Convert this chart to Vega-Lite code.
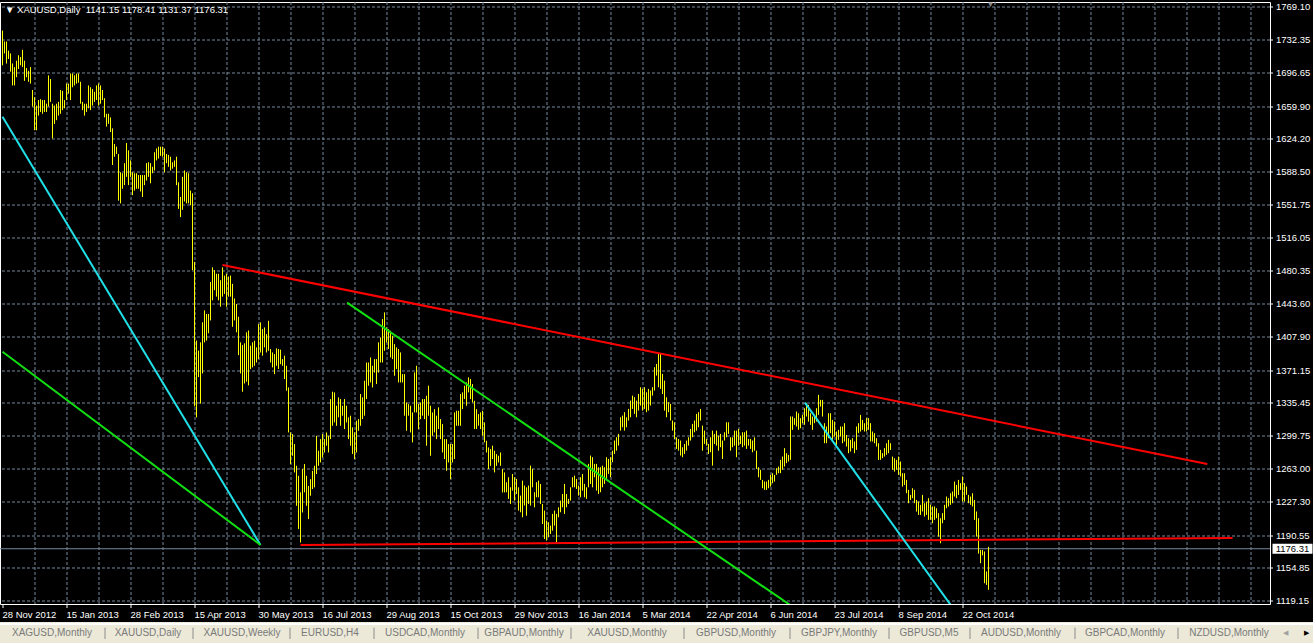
{
"$schema": "https://vega.github.io/schema/vega-lite/v6.json",
"background": "#000000",
"padding": {"left": 0, "top": 2, "right": 43, "bottom": 39},
"autosize": {"type": "none"},
"width": 1270,
"height": 602,
"view": {"fill": "#000000", "stroke": "#ffffff", "strokeWidth": 1},
"title": {"text": "▼\u00a0XAUUSD,Daily\u00a0\u00a01141.15 1178.41 1131.37 1176.31", "anchor": "start", "frame": "group", "orient": "top", "offset": -22, "baseline": "alphabetic", "color": "#ffffff", "font": "Liberation Sans", "fontSize": 9.5, "fontWeight": "normal", "dx": 5},
"datasets": {
"last": [{"p": 1176.31}],
"lines": [
{"id":"cyan1","i":0,"p":1648.8},{"id":"cyan1","i":129,"p":1180.4},
{"id":"green1","i":0,"p":1391.8},{"id":"green1","i":129,"p":1180.4},
{"id":"red1","i":110,"p":1486.6},{"id":"red1","i":602.4,"p":1268.9},
{"id":"red2","i":149,"p":1180.4},{"id":"red2","i":615,"p":1188.1},
{"id":"green2","i":172.3,"p":1445.4},{"id":"green2","i":395,"p":1113.0},
{"id":"cyan2","i":401.2,"p":1336.1},{"id":"cyan2","i":475,"p":1112.1}],
"bars": [
{"i":0,"h":1743,"l":1705},{"i":1,"h":1731,"l":1718},{"i":2,"h":1731,"l":1707},{"i":3,"h":1721,"l":1712},{"i":4,"h":1718,"l":1698},{"i":5,"h":1707,"l":1683},{"i":6,"h":1703,"l":1683},{"i":7,"h":1710,"l":1692},{"i":8,"h":1716,"l":1701},{"i":9,"h":1714,"l":1705},
{"i":10,"h":1722,"l":1703},{"i":11,"h":1710,"l":1688},{"i":12,"h":1702,"l":1692},{"i":13,"h":1699,"l":1687},{"i":14,"h":1703,"l":1685},{"i":15,"h":1678,"l":1660},{"i":16,"h":1670,"l":1634},{"i":17,"h":1661,"l":1634},{"i":18,"h":1667,"l":1650},{"i":19,"h":1668,"l":1654},
{"i":20,"h":1667,"l":1652},{"i":21,"h":1667,"l":1654},{"i":22,"h":1663,"l":1654},{"i":23,"h":1694,"l":1660},{"i":24,"h":1690,"l":1665},{"i":25,"h":1663,"l":1625},{"i":26,"h":1661,"l":1641},{"i":27,"h":1663,"l":1645},{"i":28,"h":1665,"l":1650},{"i":29,"h":1678,"l":1652},
{"i":30,"h":1677,"l":1656},{"i":31,"h":1667,"l":1658},{"i":32,"h":1685,"l":1667},{"i":33,"h":1685,"l":1674},{"i":34,"h":1696,"l":1667},{"i":35,"h":1696,"l":1681},{"i":36,"h":1694,"l":1683},{"i":37,"h":1696,"l":1685},{"i":38,"h":1696,"l":1686},{"i":39,"h":1687,"l":1663},
{"i":40,"h":1665,"l":1656},{"i":41,"h":1663,"l":1650},{"i":42,"h":1663,"l":1654},{"i":43,"h":1683,"l":1658},{"i":44,"h":1681,"l":1656},{"i":45,"h":1679,"l":1661},{"i":46,"h":1676,"l":1665},{"i":47,"h":1683,"l":1667},{"i":48,"h":1685,"l":1661},{"i":49,"h":1683,"l":1663},
{"i":50,"h":1678,"l":1667},{"i":51,"h":1669,"l":1648},{"i":52,"h":1652,"l":1638},{"i":53,"h":1652,"l":1641},{"i":54,"h":1648,"l":1632},{"i":55,"h":1636,"l":1596},{"i":56,"h":1619,"l":1605},{"i":57,"h":1616,"l":1608},{"i":58,"h":1608,"l":1557},{"i":59,"h":1588,"l":1554},
{"i":60,"h":1587,"l":1570},{"i":61,"h":1598,"l":1574},{"i":62,"h":1620,"l":1583},{"i":63,"h":1612,"l":1574},{"i":64,"h":1601,"l":1583},{"i":65,"h":1588,"l":1563},{"i":66,"h":1587,"l":1568},{"i":67,"h":1587,"l":1570},{"i":68,"h":1585,"l":1570},{"i":69,"h":1585,"l":1567},
{"i":70,"h":1585,"l":1561},{"i":71,"h":1585,"l":1574},{"i":72,"h":1598,"l":1579},{"i":73,"h":1599,"l":1583},{"i":74,"h":1598,"l":1576},{"i":75,"h":1594,"l":1587},{"i":76,"h":1610,"l":1590},{"i":77,"h":1614,"l":1601},{"i":78,"h":1616,"l":1603},{"i":79,"h":1616,"l":1606},
{"i":80,"h":1616,"l":1605},{"i":81,"h":1614,"l":1588},{"i":82,"h":1608,"l":1598},{"i":83,"h":1607,"l":1594},{"i":84,"h":1605,"l":1590},{"i":85,"h":1599,"l":1592},{"i":86,"h":1601,"l":1594},{"i":87,"h":1605,"l":1574},{"i":88,"h":1577,"l":1548},{"i":89,"h":1561,"l":1539},
{"i":90,"h":1583,"l":1547},{"i":91,"h":1590,"l":1556},{"i":92,"h":1588,"l":1554},{"i":93,"h":1587,"l":1554},{"i":94,"h":1568,"l":1552},{"i":95,"h":1565,"l":1481},{"i":96,"h":1490,"l":1332},{"i":97,"h":1404,"l":1320},{"i":98,"h":1393,"l":1364},{"i":99,"h":1402,"l":1335},
{"i":100,"h":1424,"l":1368},{"i":101,"h":1437,"l":1402},{"i":102,"h":1433,"l":1404},{"i":103,"h":1433,"l":1412},{"i":104,"h":1468,"l":1426},{"i":105,"h":1484,"l":1448},{"i":106,"h":1481,"l":1459},{"i":107,"h":1477,"l":1452},{"i":108,"h":1477,"l":1448},{"i":109,"h":1470,"l":1441},
{"i":110,"h":1484,"l":1452},{"i":111,"h":1475,"l":1455},{"i":112,"h":1477,"l":1441},{"i":113,"h":1474,"l":1452},{"i":114,"h":1475,"l":1452},{"i":115,"h":1466,"l":1419},{"i":116,"h":1450,"l":1426},{"i":117,"h":1444,"l":1413},{"i":118,"h":1430,"l":1388},{"i":119,"h":1402,"l":1368},
{"i":120,"h":1399,"l":1348},{"i":121,"h":1401,"l":1357},{"i":122,"h":1413,"l":1359},{"i":123,"h":1415,"l":1355},{"i":124,"h":1398.3,"l":1372.8},{"i":125,"h":1402,"l":1374.6},{"i":126,"h":1403.8,"l":1376.4},{"i":127,"h":1396.5,"l":1380},{"i":128,"h":1422,"l":1383.7},{"i":129,"h":1423.8,"l":1391},
{"i":130,"h":1416.5,"l":1387.4},{"i":131,"h":1418.3,"l":1396.5},{"i":132,"h":1411,"l":1391},{"i":133,"h":1425.6,"l":1392.8},{"i":134,"h":1394.7,"l":1380},{"i":135,"h":1391,"l":1374.6},{"i":136,"h":1389.2,"l":1367.3},{"i":137,"h":1395.4,"l":1376.4},{"i":138,"h":1394.7,"l":1372.8},{"i":139,"h":1394,"l":1378.2},
{"i":140,"h":1383.7,"l":1376.4},{"i":141,"h":1387.4,"l":1361.9},{"i":142,"h":1376.4,"l":1349.1},{"i":143,"h":1352.7,"l":1303.5},{"i":144,"h":1303.5,"l":1268.9},{"i":145,"h":1301.7,"l":1278},{"i":146,"h":1290.8,"l":1259.8},{"i":147,"h":1267,"l":1223.3},{"i":148,"h":1256.1,"l":1197.8},{"i":149,"h":1238,"l":1183.2},
{"i":150,"h":1263.4,"l":1216},{"i":151,"h":1268.9,"l":1238},{"i":152,"h":1256.1,"l":1223.3},{"i":153,"h":1245,"l":1208.7},{"i":154,"h":1252.4,"l":1234.3},{"i":155,"h":1261.5,"l":1241.6},{"i":156,"h":1267,"l":1243.4},{"i":157,"h":1299.8,"l":1258},{"i":158,"h":1283.5,"l":1267},{"i":159,"h":1296.2,"l":1270.7},
{"i":160,"h":1301.7,"l":1276.2},{"i":161,"h":1296.2,"l":1281.6},{"i":162,"h":1303.5,"l":1289},{"i":163,"h":1299.8,"l":1281.6},{"i":164,"h":1340,"l":1296.2},{"i":165,"h":1348,"l":1310.8},{"i":166,"h":1347.3,"l":1314.5},{"i":167,"h":1332.7,"l":1310.8},{"i":168,"h":1341.8,"l":1320},{"i":169,"h":1340,"l":1310.8},
{"i":170,"h":1332.7,"l":1321.8},{"i":171,"h":1340,"l":1307.2},{"i":172,"h":1332.7,"l":1314.5},{"i":173,"h":1320,"l":1296.2},{"i":174,"h":1321.8,"l":1289},{"i":175,"h":1309,"l":1280},{"i":176,"h":1303.5,"l":1274.4},{"i":177,"h":1316.3,"l":1281.6},{"i":178,"h":1318.1,"l":1305.3},{"i":179,"h":1345.5,"l":1310.8},
{"i":180,"h":1341.8,"l":1318.1},{"i":181,"h":1360,"l":1321.8},{"i":182,"h":1380,"l":1340},{"i":183,"h":1380,"l":1354.6},{"i":184,"h":1385.5,"l":1358.2},{"i":185,"h":1376.4,"l":1352.7},{"i":186,"h":1383.7,"l":1369},{"i":187,"h":1383.7,"l":1356.4},{"i":188,"h":1402,"l":1369},{"i":189,"h":1407.4,"l":1380},
{"i":190,"h":1427.5,"l":1380},{"i":191,"h":1434.8,"l":1392.8},{"i":192,"h":1418.3,"l":1402},{"i":193,"h":1416.5,"l":1394.7},{"i":194,"h":1414.7,"l":1385.5},{"i":195,"h":1409.2,"l":1383.7},{"i":196,"h":1400.1,"l":1365.5},{"i":197,"h":1396.5,"l":1372.8},{"i":198,"h":1394.7,"l":1358.2},{"i":199,"h":1391,"l":1358.2},
{"i":200,"h":1367.3,"l":1358.2},{"i":201,"h":1367.3,"l":1321.8},{"i":202,"h":1336.3,"l":1305.3},{"i":203,"h":1334.5,"l":1321.8},{"i":204,"h":1332.7,"l":1303.5},{"i":205,"h":1325.4,"l":1292.6},{"i":206,"h":1369.1,"l":1325.4},{"i":207,"h":1376.4,"l":1325.4},{"i":208,"h":1334.5,"l":1307.2},{"i":209,"h":1336.3,"l":1318.1},
{"i":210,"h":1340,"l":1321.8},{"i":211,"h":1340,"l":1318.1},{"i":212,"h":1343.6,"l":1289},{"i":213,"h":1354.6,"l":1321.8},{"i":214,"h":1332.7,"l":1278},{"i":215,"h":1325.4,"l":1299.8},{"i":216,"h":1329,"l":1303.5},{"i":217,"h":1321.8,"l":1296.2},{"i":218,"h":1330.9,"l":1307.2},{"i":219,"h":1318.1,"l":1296.2},
{"i":220,"h":1312.6,"l":1281.6},{"i":221,"h":1296.2,"l":1274.4},{"i":222,"h":1296.2,"l":1261.6},{"i":223,"h":1290.8,"l":1270.7},{"i":224,"h":1290.8,"l":1252.4},{"i":225,"h":1290.8,"l":1270.7},{"i":226,"h":1325.4,"l":1274.4},{"i":227,"h":1327.2,"l":1310.8},{"i":228,"h":1327.2,"l":1310.8},{"i":229,"h":1345.5,"l":1310.8},
{"i":230,"h":1347.3,"l":1329},{"i":231,"h":1354.6,"l":1340},{"i":232,"h":1358.2,"l":1332.7},{"i":233,"h":1363.7,"l":1347.3},{"i":234,"h":1361.9,"l":1340},{"i":235,"h":1356.4,"l":1336.3},{"i":236,"h":1338.1,"l":1307.2},{"i":237,"h":1329,"l":1307.2},{"i":238,"h":1323.6,"l":1310.8},{"i":239,"h":1325.4,"l":1307.2},
{"i":240,"h":1327.2,"l":1299.8},{"i":241,"h":1314.5,"l":1292.6},{"i":242,"h":1294.4,"l":1281.6},{"i":243,"h":1287.1,"l":1263.4},{"i":244,"h":1285.3,"l":1267},{"i":245,"h":1289,"l":1274.4},{"i":246,"h":1283.5,"l":1259.8},{"i":247,"h":1279.8,"l":1267},{"i":248,"h":1278,"l":1270.7},{"i":249,"h":1281.6,"l":1267},
{"i":250,"h":1263.4,"l":1237.9},{"i":251,"h":1259.8,"l":1237.9},{"i":252,"h":1249,"l":1238.1},{"i":253,"h":1254.5,"l":1230.8},{"i":254,"h":1243.5,"l":1225.3},{"i":255,"h":1258.1,"l":1239.9},{"i":256,"h":1254.5,"l":1229},{"i":257,"h":1252.7,"l":1236.2},{"i":258,"h":1243.5,"l":1218},{"i":259,"h":1234.4,"l":1216.2},
{"i":260,"h":1250.8,"l":1210.7},{"i":261,"h":1245.4,"l":1223.5},{"i":262,"h":1243.5,"l":1212.5},{"i":263,"h":1245.4,"l":1225.3},{"i":264,"h":1267.2,"l":1223.5},{"i":265,"h":1263.6,"l":1243.5},{"i":266,"h":1238.1,"l":1221.6},{"i":267,"h":1249,"l":1232.6},{"i":268,"h":1250.8,"l":1232.6},{"i":269,"h":1247.2,"l":1225.3},
{"i":270,"h":1225.3,"l":1203.4},{"i":271,"h":1218,"l":1187},{"i":272,"h":1207.1,"l":1185.2},{"i":273,"h":1205.3,"l":1188.8},{"i":274,"h":1201.6,"l":1192.5},{"i":275,"h":1214.4,"l":1196.1},{"i":276,"h":1218,"l":1201.6},{"i":277,"h":1214.4,"l":1183.4},{"i":278,"h":1221.6,"l":1210.7},{"i":279,"h":1228.9,"l":1216.2},
{"i":280,"h":1236.2,"l":1221.6},{"i":281,"h":1247.2,"l":1214.4},{"i":282,"h":1236.2,"l":1221.6},{"i":283,"h":1230.8,"l":1225.3},{"i":284,"h":1243.5,"l":1229},{"i":285,"h":1254.5,"l":1243.5},{"i":286,"h":1256.3,"l":1243.5},{"i":287,"h":1252.7,"l":1241.7},{"i":288,"h":1245.4,"l":1234.4},{"i":289,"h":1254.5,"l":1232.6},
{"i":290,"h":1258.1,"l":1239.9},{"i":291,"h":1247.2,"l":1232.6},{"i":292,"h":1243.5,"l":1230.8},{"i":293,"h":1269.1,"l":1243.5},{"i":294,"h":1278.2,"l":1247.2},{"i":295,"h":1276.4,"l":1243.5},{"i":296,"h":1269.1,"l":1254.5},{"i":297,"h":1269.1,"l":1239.9},{"i":298,"h":1265.4,"l":1236.2},{"i":299,"h":1265.4,"l":1238.1},
{"i":300,"h":1267.2,"l":1243.5},{"i":301,"h":1265.4,"l":1247.2},{"i":302,"h":1276.4,"l":1252.7},{"i":303,"h":1274.5,"l":1258.1},{"i":304,"h":1276.4,"l":1254.5},{"i":305,"h":1283.6,"l":1270.9},{"i":306,"h":1294.6,"l":1280},{"i":307,"h":1298.2,"l":1283.6},{"i":308,"h":1301.9,"l":1289.1},{"i":309,"h":1320.1,"l":1305.5},
{"i":310,"h":1321.9,"l":1309.2},{"i":311,"h":1325.6,"l":1305.5},{"i":312,"h":1320.1,"l":1309.2},{"i":313,"h":1329.2,"l":1316.5},{"i":314,"h":1338.3,"l":1320.1},{"i":315,"h":1343.8,"l":1329.2},{"i":316,"h":1342,"l":1323.8},{"i":317,"h":1338.3,"l":1320.1},{"i":318,"h":1345.6,"l":1327.4},{"i":319,"h":1352.9,"l":1332.9},
{"i":320,"h":1351.1,"l":1327.4},{"i":321,"h":1352.9,"l":1329.2},{"i":322,"h":1347.4,"l":1325.6},{"i":323,"h":1351.1,"l":1327.4},{"i":324,"h":1349.3,"l":1332.9},{"i":325,"h":1352.9,"l":1343.8},{"i":326,"h":1374.8,"l":1349.3},{"i":327,"h":1378.4,"l":1365.7},{"i":328,"h":1389.4,"l":1352.9},{"i":329,"h":1389.4,"l":1351.1},
{"i":330,"h":1367.5,"l":1345.6},{"i":331,"h":1360.2,"l":1327.4},{"i":332,"h":1342,"l":1320.1},{"i":333,"h":1336.5,"l":1325.6},{"i":334,"h":1334.7,"l":1316.5},{"i":335,"h":1316.5,"l":1305.5},{"i":336,"h":1314.6,"l":1296.4},{"i":337,"h":1298.2,"l":1285.5},{"i":338,"h":1296.4,"l":1283.6},{"i":339,"h":1294.6,"l":1278.2},
{"i":340,"h":1287.3,"l":1276.4},{"i":341,"h":1290.9,"l":1280},{"i":342,"h":1294.6,"l":1283.6},{"i":343,"h":1298.2,"l":1289.1},{"i":344,"h":1307.3,"l":1294.6},{"i":345,"h":1312.8,"l":1298.2},{"i":346,"h":1316.5,"l":1303.7},{"i":347,"h":1323.8,"l":1305.5},{"i":348,"h":1325.6,"l":1309.2},{"i":349,"h":1329.2,"l":1316.5},
{"i":350,"h":1311,"l":1283.6},{"i":351,"h":1305.5,"l":1291},{"i":352,"h":1296.4,"l":1289.1},{"i":353,"h":1290.9,"l":1280},{"i":354,"h":1298.2,"l":1281.8},{"i":355,"h":1305.5,"l":1267.2},{"i":356,"h":1301.9,"l":1290.9},{"i":357,"h":1305.5,"l":1289.1},{"i":358,"h":1300,"l":1283.6},{"i":359,"h":1301.9,"l":1287.3},
{"i":360,"h":1294.6,"l":1274.5},{"i":361,"h":1303.7,"l":1294.6},{"i":362,"h":1314.6,"l":1298.2},{"i":363,"h":1314.6,"l":1301.9},{"i":364,"h":1298.2,"l":1283.6},{"i":365,"h":1298.2,"l":1287.3},{"i":366,"h":1305.5,"l":1289.1},{"i":367,"h":1305.5,"l":1276.4},{"i":368,"h":1307.3,"l":1289.1},{"i":369,"h":1300,"l":1290.9},
{"i":370,"h":1303.7,"l":1287.3},{"i":371,"h":1303.7,"l":1289.1},{"i":372,"h":1305.5,"l":1285.5},{"i":373,"h":1296.4,"l":1289.1},{"i":374,"h":1296.4,"l":1285.5},{"i":375,"h":1294.6,"l":1281.8},{"i":376,"h":1298.2,"l":1283.6},{"i":377,"h":1283.6,"l":1263.6},{"i":378,"h":1265.4,"l":1254.5},{"i":379,"h":1262.6,"l":1251.6},
{"i":380,"h":1251.6,"l":1242.5},{"i":381,"h":1249.8,"l":1240.7},{"i":382,"h":1249.8,"l":1240.7},{"i":383,"h":1251.6,"l":1242.5},{"i":384,"h":1257.1,"l":1244.3},{"i":385,"h":1258.9,"l":1247.9},{"i":386,"h":1257.1,"l":1249.8},{"i":387,"h":1264.4,"l":1257.1},{"i":388,"h":1266.2,"l":1258.9},{"i":389,"h":1273.5,"l":1258.9},
{"i":390,"h":1277.1,"l":1262.6},{"i":391,"h":1286.3,"l":1266.2},{"i":392,"h":1280.8,"l":1269.9},{"i":393,"h":1279,"l":1271.7},{"i":394,"h":1320.9,"l":1273.5},{"i":395,"h":1320.9,"l":1306.3},{"i":396,"h":1319.1,"l":1311.8},{"i":397,"h":1326.4,"l":1310},{"i":398,"h":1324.5,"l":1306.3},{"i":399,"h":1319.1,"l":1308.1},
{"i":400,"h":1322.7,"l":1313.6},{"i":401,"h":1330,"l":1311.8},{"i":402,"h":1335.5,"l":1320.9},{"i":403,"h":1333.7,"l":1315.4},{"i":404,"h":1324.5,"l":1311.8},{"i":405,"h":1320.9,"l":1306.3},{"i":406,"h":1320.9,"l":1313.6},{"i":407,"h":1330,"l":1315.4},{"i":408,"h":1344.6,"l":1322.7},{"i":409,"h":1339.1,"l":1331.8},
{"i":410,"h":1339.1,"l":1320.9},{"i":411,"h":1313.6,"l":1291.7},{"i":412,"h":1310,"l":1291.7},{"i":413,"h":1324.5,"l":1297.2},{"i":414,"h":1324.5,"l":1302.7},{"i":415,"h":1317.2,"l":1295.4},{"i":416,"h":1315.4,"l":1299},{"i":417,"h":1304.5,"l":1289.9},{"i":418,"h":1306.3,"l":1295.4},{"i":419,"h":1310,"l":1299},
{"i":420,"h":1310,"l":1291.7},{"i":421,"h":1313.6,"l":1293.6},{"i":422,"h":1300.8,"l":1288.1},{"i":423,"h":1297.2,"l":1280.8},{"i":424,"h":1295.4,"l":1282.6},{"i":425,"h":1297.2,"l":1286.3},{"i":426,"h":1293.6,"l":1280.8},{"i":427,"h":1310,"l":1284.4},{"i":428,"h":1313.6,"l":1302.7},{"i":429,"h":1322.7,"l":1304.5},
{"i":430,"h":1317.2,"l":1306.3},{"i":431,"h":1313.6,"l":1304.5},{"i":432,"h":1319.1,"l":1304.5},{"i":433,"h":1319.1,"l":1306.3},{"i":434,"h":1313.6,"l":1293.6},{"i":435,"h":1304.5,"l":1293.6},{"i":436,"h":1302.7,"l":1291.7},{"i":437,"h":1297.2,"l":1288.1},{"i":438,"h":1291.7,"l":1273.5},{"i":439,"h":1284.4,"l":1273.5},
{"i":440,"h":1280.8,"l":1275.3},{"i":441,"h":1286.3,"l":1277.1},{"i":442,"h":1291.7,"l":1279},{"i":443,"h":1295.4,"l":1280.8},{"i":444,"h":1291.7,"l":1284.4},{"i":445,"h":1277.1,"l":1262.6},{"i":446,"h":1275.3,"l":1260.7},{"i":447,"h":1273.5,"l":1262.6},{"i":448,"h":1277.1,"l":1257.1},{"i":449,"h":1271.7,"l":1255.3},
{"i":450,"h":1258.9,"l":1244.3},{"i":451,"h":1258.9,"l":1246.1},{"i":452,"h":1251.6,"l":1237},{"i":453,"h":1240.7,"l":1226.1},{"i":454,"h":1235.2,"l":1229.7},{"i":455,"h":1242.5,"l":1231.6},{"i":456,"h":1240.7,"l":1226.1},{"i":457,"h":1229.7,"l":1217},{"i":458,"h":1227.9,"l":1213.3},{"i":459,"h":1224.3,"l":1213.3},
{"i":460,"h":1235.2,"l":1217},{"i":461,"h":1226.1,"l":1211.5},{"i":462,"h":1227.9,"l":1213.3},{"i":463,"h":1231.6,"l":1207.9},{"i":464,"h":1224.3,"l":1207.9},{"i":465,"h":1222.5,"l":1204.2},{"i":466,"h":1222.5,"l":1207.9},{"i":467,"h":1220.6,"l":1209.7},{"i":468,"h":1215.2,"l":1189.6},{"i":469,"h":1209.7,"l":1182.3},
{"i":470,"h":1215.2,"l":1204.2},{"i":471,"h":1224.3,"l":1207.9},{"i":472,"h":1233.4,"l":1220.6},{"i":473,"h":1231.6,"l":1222.5},{"i":474,"h":1237,"l":1224.3},{"i":475,"h":1238.9,"l":1226.1},{"i":476,"h":1249.8,"l":1233.4},{"i":477,"h":1246.1,"l":1231.6},{"i":478,"h":1251.6,"l":1235.2},{"i":479,"h":1248,"l":1240.7},
{"i":480,"h":1255.3,"l":1227.9},{"i":481,"h":1248,"l":1227.9},{"i":482,"h":1244.3,"l":1235.2},{"i":483,"h":1235.2,"l":1226.1},{"i":484,"h":1233.4,"l":1224.3},{"i":485,"h":1237,"l":1222.5},{"i":486,"h":1229.7,"l":1207.9},{"i":487,"h":1217,"l":1189.6},{"i":488,"h":1209.7,"l":1171},{"i":489,"h":1175,"l":1160.5},
{"i":490,"h":1175,"l":1169.1},{"i":491,"h":1173.3,"l":1138.6},{"i":492,"h":1151.4,"l":1136.8},{"i":493,"h":1178.41,"l":1131.37}]
},
"resolve": {"axis": {"x": "independent", "y": "independent"}},
"layer": [
{"data": {"name": "last"}, "mark": {"type": "rule", "color": "#778899", "strokeWidth": 1},
 "encoding": {"y": {"field": "p", "type": "quantitative", "axis": null}}},
{"data": {"name": "bars"}, "mark": {"type": "rule", "color": "#ffff00", "strokeWidth": 1},
 "encoding": {
  "x": {"field": "i", "type": "quantitative", "scale": {"domain": [-1.25, 633.75], "nice": false, "zero": false},
   "axis": {"title": null, "values": [0,16,32,48,64,80,96,112,128,144,160,176,192,208,224,240,256,272,288,304,320,336,352,368,384,400,416,432,448,464,480,496,512,528,544,560,576,592,608,624],
    "labelExpr": "datum.value % 32 == 0 && datum.value <= 480 ? ['28 Nov 2012','15 Jan 2013','28 Feb 2013','15 Apr 2013','30 May 2013','16 Jul 2013','29 Aug 2013','15 Oct 2013','29 Nov 2013','16 Jan 2014','5 Mar 2014','22 Apr 2014','6 Jun 2014','23 Jul 2014','8 Sep 2014','22 Oct 2014'][datum.value / 32] : ''",
    "labelAlign": "left", "labelColor": "#ffffff", "labelFont": "Liberation Sans", "labelFontSize": 9.5, "labelPadding": 2, "labelOverlap": false, "labelFlush": false, "labelBound": false,
    "tickColor": "#ffffff", "tickSize": 4, "tickOpacity": {"condition": {"test": "datum.value % 32 == 0 && datum.value <= 480", "value": 1}, "value": 0},
    "grid": true, "gridColor": "#778899", "gridDash": [3, 2], "gridOpacity": {"condition": {"test": "datum.value == 0", "value": 0}, "value": 1},
    "domain": false, "translate": 0}},
  "y": {"field": "l", "type": "quantitative", "scale": {"domain": [1115.87, 1774.24], "nice": false, "zero": false},
   "axis": {"title": null, "orient": "right", "values": [1119.15,1154.85,1190.55,1227.3,1263,1299.75,1335.45,1371.15,1407.9,1443.6,1480.35,1516.05,1551.75,1588.5,1624.2,1659.9,1696.65,1732.35,1769.1],
    "format": ".2f", "labelColor": "#ffffff", "labelFont": "Liberation Sans", "labelFontSize": 9.5, "labelPadding": 3, "labelOverlap": false, "labelBound": false,
    "tickColor": "#ffffff", "tickSize": 3, "grid": true, "gridColor": "#778899", "gridDash": [3, 2], "domain": false, "translate": 0}},
  "y2": {"field": "h"}}},
{"data": {"name": "lines"}, "mark": {"type": "line", "strokeWidth": 2, "clip": true},
 "encoding": {
  "x": {"field": "i", "type": "quantitative", "axis": null},
  "y": {"field": "p", "type": "quantitative", "axis": null},
  "detail": {"field": "id"},
  "color": {"field": "id", "type": "nominal", "legend": null, "scale": {"domain": ["red1","red2","cyan1","cyan2","green1","green2"], "range": ["#ff0000","#ff0000","#20e0e8","#20e0e8","#10e010","#10e010"]}}}},
{"data": {"name": "last"}, "mark": {"type": "point", "shape": "M-4,-1H4V1H-4Z", "size": 100, "filled": true, "color": "#ffffff", "opacity": 1, "strokeWidth": 0},
 "encoding": {"x": {"datum": 645, "type": "quantitative", "axis": null}, "y": {"field": "p", "type": "quantitative", "axis": null}}},
{"data": {"name": "last"}, "mark": {"type": "text", "color": "#000000", "font": "Liberation Sans", "fontSize": 9.5, "align": "center", "baseline": "middle"},
 "encoding": {"x": {"datum": 645, "type": "quantitative", "axis": null}, "y": {"field": "p", "type": "quantitative", "axis": null}, "text": {"field": "p", "type": "quantitative", "format": ".2f"}}},
{"data": {"values": [{"m": "▼"}]}, "mark": {"type": "text", "color": "#8a8a8a", "fontSize": 8, "baseline": "middle", "align": "center"},
 "encoding": {"x": {"datum": 494, "type": "quantitative", "axis": null}, "y": {"datum": 1771, "type": "quantitative", "axis": null}, "text": {"field": "m"}}},
{"data": {"values": [{}]}, "mark": {"type": "rect", "color": "#ece9d8", "clip": false},
 "encoding": {"x": {"datum": -1.25, "type": "quantitative", "axis": null}, "x2": {"datum": 655.25}, "y": {"datum": 1096.24, "type": "quantitative", "axis": null}, "y2": {"datum": 1070}}},
{"data": {"values": [{}]}, "mark": {"type": "rule", "color": "#ffffff", "strokeWidth": 2, "clip": false},
 "encoding": {"x": {"datum": -1.25, "type": "quantitative", "axis": null}, "x2": {"datum": 655.25}, "y": {"datum": 1094.05, "type": "quantitative", "axis": null}}},
{"data": {"values": [{"a": "◀"}]}, "mark": {"type": "text", "fontSize": 7, "baseline": "middle", "align": "center", "clip": false, "color": "#a0a0a0"},
 "encoding": {"x": {"datum": 641.25, "type": "quantitative", "axis": null}, "y": {"datum": 1084.2, "type": "quantitative", "axis": null}, "text": {"field": "a"}}},
{"data": {"values": [{"a": "▶"}]}, "mark": {"type": "text", "fontSize": 7, "baseline": "middle", "align": "center", "clip": false, "color": "#000000"},
 "encoding": {"x": {"datum": 651.75, "type": "quantitative", "axis": null}, "y": {"datum": 1084.2, "type": "quantitative", "axis": null}, "text": {"field": "a"}}},
{"data": {"values": [{}]}, "mark": {"type": "point", "opacity": 0},
 "encoding": {"x": {"datum": 300, "type": "quantitative",
  "axis": {"title": null, "orient": "bottom", "offset": 20, "zindex": 2, "values": [24.75,72.75,119.75,163.75,211.25,260.75,312.25,366.75,418.25,463.25,509.25,561.25,613.25],
   "labelExpr": "['XAGUSD,Monthly','XAUUSD,Daily','XAUUSD,Weekly','EURUSD,H4','USDCAD,Monthly','GBPAUD,Monthly','XAUUSD,Monthly','GBPUSD,Monthly','GBPJPY,Monthly','GBPUSD,M5','AUDUSD,Monthly','GBPCAD,Monthly','NZDUSD,Monthly'][indexof([24.75,72.75,119.75,163.75,211.25,260.75,312.25,366.75,418.25,463.25,509.25,561.25,613.25], datum.value)]",
   "ticks": false, "tickSize": 0, "grid": false, "domain": false,
   "labelPadding": 9.3, "labelBaseline": "middle", "labelAlign": "center", "labelFont": "Liberation Sans", "labelFontSize": 10, "labelColor": "#7a7a7a",
   "labelOverlap": false, "labelFlush": false, "labelBound": false, "translate": 0}},
  "y": {"datum": 1400, "type": "quantitative", "axis": null}}},
{"data": {"values": [{}]}, "mark": {"type": "point", "opacity": 0},
 "encoding": {"x": {"datum": 300, "type": "quantitative",
  "axis": {"title": null, "orient": "bottom", "offset": 23.7, "zindex": 2, "values": [51.25,95.25,143.75,185.75,237.75,284.25,340.75,393.75,443.25,483.75,536.25,587.75],
   "labels": false, "ticks": true, "tickSize": 11.3, "tickColor": "#8c8c8c", "tickWidth": 1, "grid": false, "domain": false, "translate": 0}},
  "y": {"datum": 1400, "type": "quantitative", "axis": null}}}
]
}
